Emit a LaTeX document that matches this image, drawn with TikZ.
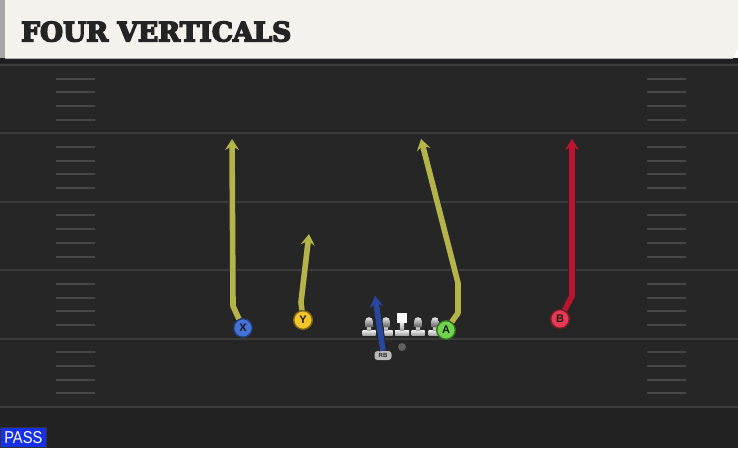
\documentclass[tikz,border=0pt]{standalone}
\usepackage{fontspec}
\usetikzlibrary{arrows.meta,shapes.geometric}
\newfontfamily\titlefont[FakeBold=5]{DejaVu Serif Condensed Bold}
\newfontfamily\labfont{Liberation Sans}
\definecolor{fieldbg}{HTML}{262626}
\definecolor{fieldlow}{HTML}{222222}
\definecolor{yardline}{HTML}{3C3C3C}
\definecolor{hashc}{HTML}{464646}
\definecolor{cream}{HTML}{F4F2EC}
\definecolor{titlec}{HTML}{242424}
\definecolor{rtyellow}{HTML}{B4B44A}
\definecolor{rtred}{HTML}{BA1430}
\definecolor{rtblue}{HTML}{2A47A0}
\definecolor{cX}{HTML}{4472D8}
\definecolor{cY}{HTML}{F2C62A}
\definecolor{cA}{HTML}{6FD44C}
\definecolor{cB}{HTML}{E83A52}
\definecolor{passblue}{HTML}{1530E6}
\tikzset{
  route/.style={line width=5.6pt, line join=round, draw=#1,
    -{Stealth[length=11pt,width=14pt,inset=4pt,fill=#1,color=#1]},
    preaction={draw=black!85, line width=7.6pt, line join=round,
      -{Stealth[length=12.5pt,width=16.5pt,inset=4.5pt]}}},
  player/.style={circle, minimum size=18.5pt, inner sep=0pt, fill=#1, draw=#1!50!black, line width=1.2pt,
    font=\labfont\bfseries\fontsize{11}{11}\selectfont, text=black!90},
  yardl/.style={draw=yardline, line width=2pt},
  hashl/.style={draw=hashc, line width=2pt},
  lman/.pic={
    \fill[top color=white!85!gray, bottom color=gray!70] (-6.5,-4.5) rectangle (6.5,0);
    \fill[top color=white!80!gray, bottom color=gray!75] (-2.2,-9) rectangle (2.2,-4.5);
    \fill[top color=white!85!gray, bottom color=gray!60!black!90] (-3.8,-8) -- (-3.8,-14) arc[start angle=180,end angle=0,radius=3.8pt] -- (3.8,-8) -- cycle;
  },
  cman/.pic={
    \fill[top color=white!85!gray, bottom color=gray!70] (-7,-4.5) rectangle (7,0);
    \fill[top color=white!80!gray, bottom color=gray!75] (-2.2,-12) rectangle (2.2,-4.5);
    \fill[white] (-4.8,-22.5) rectangle (4.8,-12);
  }
}
\begin{document}
\begin{tikzpicture}[x=1pt,y=-1pt]
\useasboundingbox (0,0) rectangle (738,448);
% field
\fill[fieldbg] (0,58) rectangle (738,408);
\fill[fieldlow] (0,408) rectangle (738,448);
\fill[black!88] (0,58) rectangle (738,63);
% header
\fill[cream] (5,0) -- (738,0) -- (738,48) -- (733,58) -- (5,58) -- cycle;
\fill[gray!70] (0,0) rectangle (5,58);
\draw[gray!60, line width=0.8pt] (5,58.4) -- (733,58.4);
\node[anchor=south west, inner sep=0pt, text=titlec] (title) at (21,42)
  {\resizebox{270pt}{20pt}{\titlefont FOUR VERTICALS}};
% yard lines
\foreach \k in {0,...,5} { \draw[yardl] (0,{65+68.4*\k}) -- (738,{65+68.4*\k}); }
% hash marks
\foreach \k in {1,...,24} {
  \pgfmathtruncatemacro{\m}{mod(\k,5)}
  \ifnum\m>0
    \draw[hashl] (56,{65+13.68*\k}) -- (95,{65+13.68*\k});
    \draw[hashl] (647,{65+13.68*\k}) -- (686,{65+13.68*\k});
  \fi
}
% line
\pic at (369,335) {lman};
\pic at (386,335) {lman};
\pic at (402,335) {cman};
\pic at (418,335) {lman};
\pic at (435,335) {lman};
% QB
\node[circle, fill=gray!75!black, minimum size=8pt, inner sep=0pt] (QB) at (402,347) {};
% RB tag
\node[fill=gray!55, rounded corners=3pt, minimum width=17pt, minimum height=9pt, inner sep=0pt,
  font=\labfont\bfseries\fontsize{6}{6}\selectfont, text=black!85] (RB) at (383,355.5) {RB};
% players
\node[player=cX] (X) at (243,328) {X};
\node[player=cY] (Y) at (303,320) {Y};
\node[player=cA] (A) at (446,330) {A};
\node[player=cB] (B) at (560,319) {B};
% targets
\coordinate (Xend) at (232,139);
\coordinate (Yend) at (309,234);
\coordinate (Aend) at (421,139);
\coordinate (Bend) at (572,139);
\coordinate (RBend) at (375,296);
% routes
\draw[route=rtyellow] (X) -- (233,306) -- (Xend);
\draw[route=rtyellow] (Y) -- (301,302) -- (Yend);
\draw[route=rtyellow] (A) -- (458,313) -- (458,283) -- (Aend);
\draw[route=rtred] (B) -- (572,296) -- (Bend);
\draw[route=rtblue] (RB.north) -- (RBend);
% redraw players on top
\node[player=cX] at (X) {X};
\node[player=cY] at (Y) {Y};
\node[player=cA] at (A) {A};
\node[player=cB] at (B) {B};
% PASS
\node[anchor=south west, fill=passblue, draw=black!80, line width=0.6pt, minimum width=46pt, minimum height=20pt, inner sep=0pt, text=white] (pass) at (0,448)
  {\resizebox{38pt}{12pt}{\labfont PASS}};
\end{tikzpicture}
\end{document}
